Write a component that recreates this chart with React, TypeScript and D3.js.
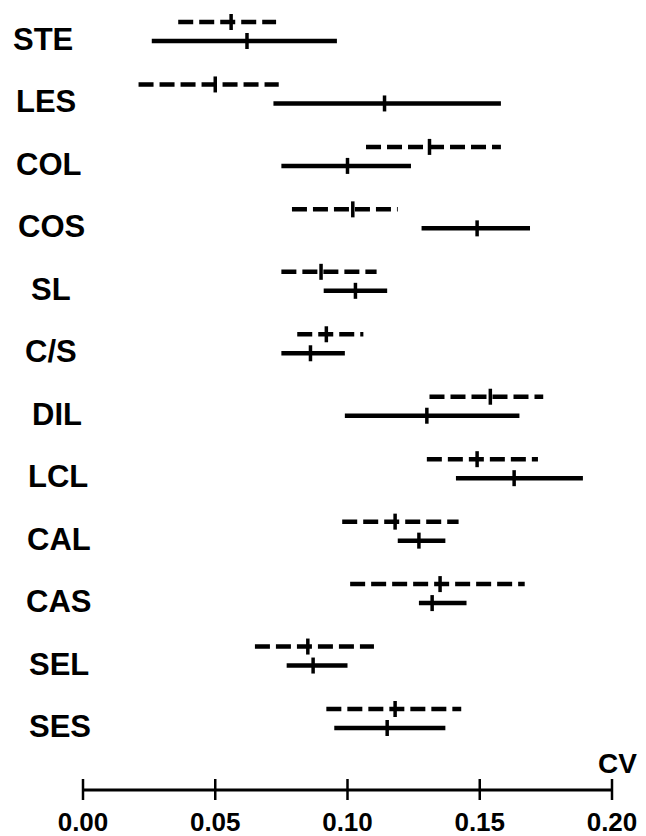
import React from "react";
import * as d3 from "d3";

const categories = ["STE", "LES", "COL", "COS", "SL", "C/S", "DIL", "LCL", "CAL", "CAS", "SEL", "SES"];
// dashed series: low, median, high
const dashedLow = [0.036, 0.021, 0.107, 0.079, 0.075, 0.081, 0.131, 0.130, 0.098, 0.101, 0.065, 0.092];
const dashedMid = [0.056, 0.050, 0.131, 0.102, 0.090, 0.092, 0.154, 0.149, 0.118, 0.135, 0.085, 0.118];
const dashedHigh = [0.073, 0.074, 0.158, 0.119, 0.111, 0.106, 0.174, 0.172, 0.142, 0.167, 0.110, 0.143];
// solid series: low, median, high
const solidLow = [0.026, 0.072, 0.075, 0.128, 0.091, 0.075, 0.099, 0.141, 0.119, 0.127, 0.077, 0.095];
const solidMid = [0.062, 0.114, 0.100, 0.149, 0.103, 0.086, 0.130, 0.163, 0.127, 0.132, 0.087, 0.115];
const solidHigh = [0.096, 0.158, 0.124, 0.169, 0.115, 0.099, 0.165, 0.189, 0.137, 0.145, 0.100, 0.137];
const tickValues = [0, 0.05, 0.1, 0.15, 0.2];
const axisTitle = "CV";

// layout only
const labelX = [13, 16, 16, 18, 31, 25, 32, 28, 27, 26, 29, 29];

export default function App() {
  const W = 646, H = 836;
  const x = d3.scaleLinear().domain([0, 0.2]).range([83, 612]);
  const y = d3.scalePoint<string>().domain(categories).range([22, 709]);
  const solidOff = 19;
  const axisY = 790;
  const font = "'Liberation Sans', Arial, Helvetica, sans-serif";

  return (
    <svg width={W} height={H} style={{ position: "absolute", left: 0, top: 0, background: "#fff" }}>
      <rect width={W} height={H} fill="#fff" />
      {categories.map((c, i) => {
        const yd = y(c)!;
        const ys = yd + solidOff;
        return (
          <g key={c}>
            <text x={labelX[i]} y={ys + 9} fontFamily={font} fontWeight="bold" fontSize={31} fill="#000">{c}</text>
            <line x1={x(dashedLow[i])} x2={x(dashedHigh[i])} y1={yd} y2={yd} stroke="#000" strokeWidth={4.5} strokeDasharray="15,6" />
            <line x1={x(dashedMid[i])} x2={x(dashedMid[i])} y1={yd - 8} y2={yd + 8} stroke="#000" strokeWidth={3.5} />
            <line x1={x(solidLow[i])} x2={x(solidHigh[i])} y1={ys} y2={ys} stroke="#000" strokeWidth={4.5} />
            <line x1={x(solidMid[i])} x2={x(solidMid[i])} y1={ys - 8} y2={ys + 8} stroke="#000" strokeWidth={3.5} />
          </g>
        );
      })}
      <line x1={x(0)} x2={x(0.2)} y1={axisY} y2={axisY} stroke="#000" strokeWidth={3} />
      {tickValues.map((t) => (
        <g key={t}>
          <line x1={x(t)} x2={x(t)} y1={axisY - 11} y2={axisY + 10} stroke="#000" strokeWidth={2.5} />
          <text x={x(t)} y={831} textAnchor="middle" fontFamily={font} fontWeight="bold" fontSize={26} fill="#000">{d3.format(".2f")(t)}</text>
        </g>
      ))}
      <text x={637} y={773} textAnchor="end" fontFamily={font} fontWeight="bold" fontSize={28} fill="#000">{axisTitle}</text>
    </svg>
  );
}
